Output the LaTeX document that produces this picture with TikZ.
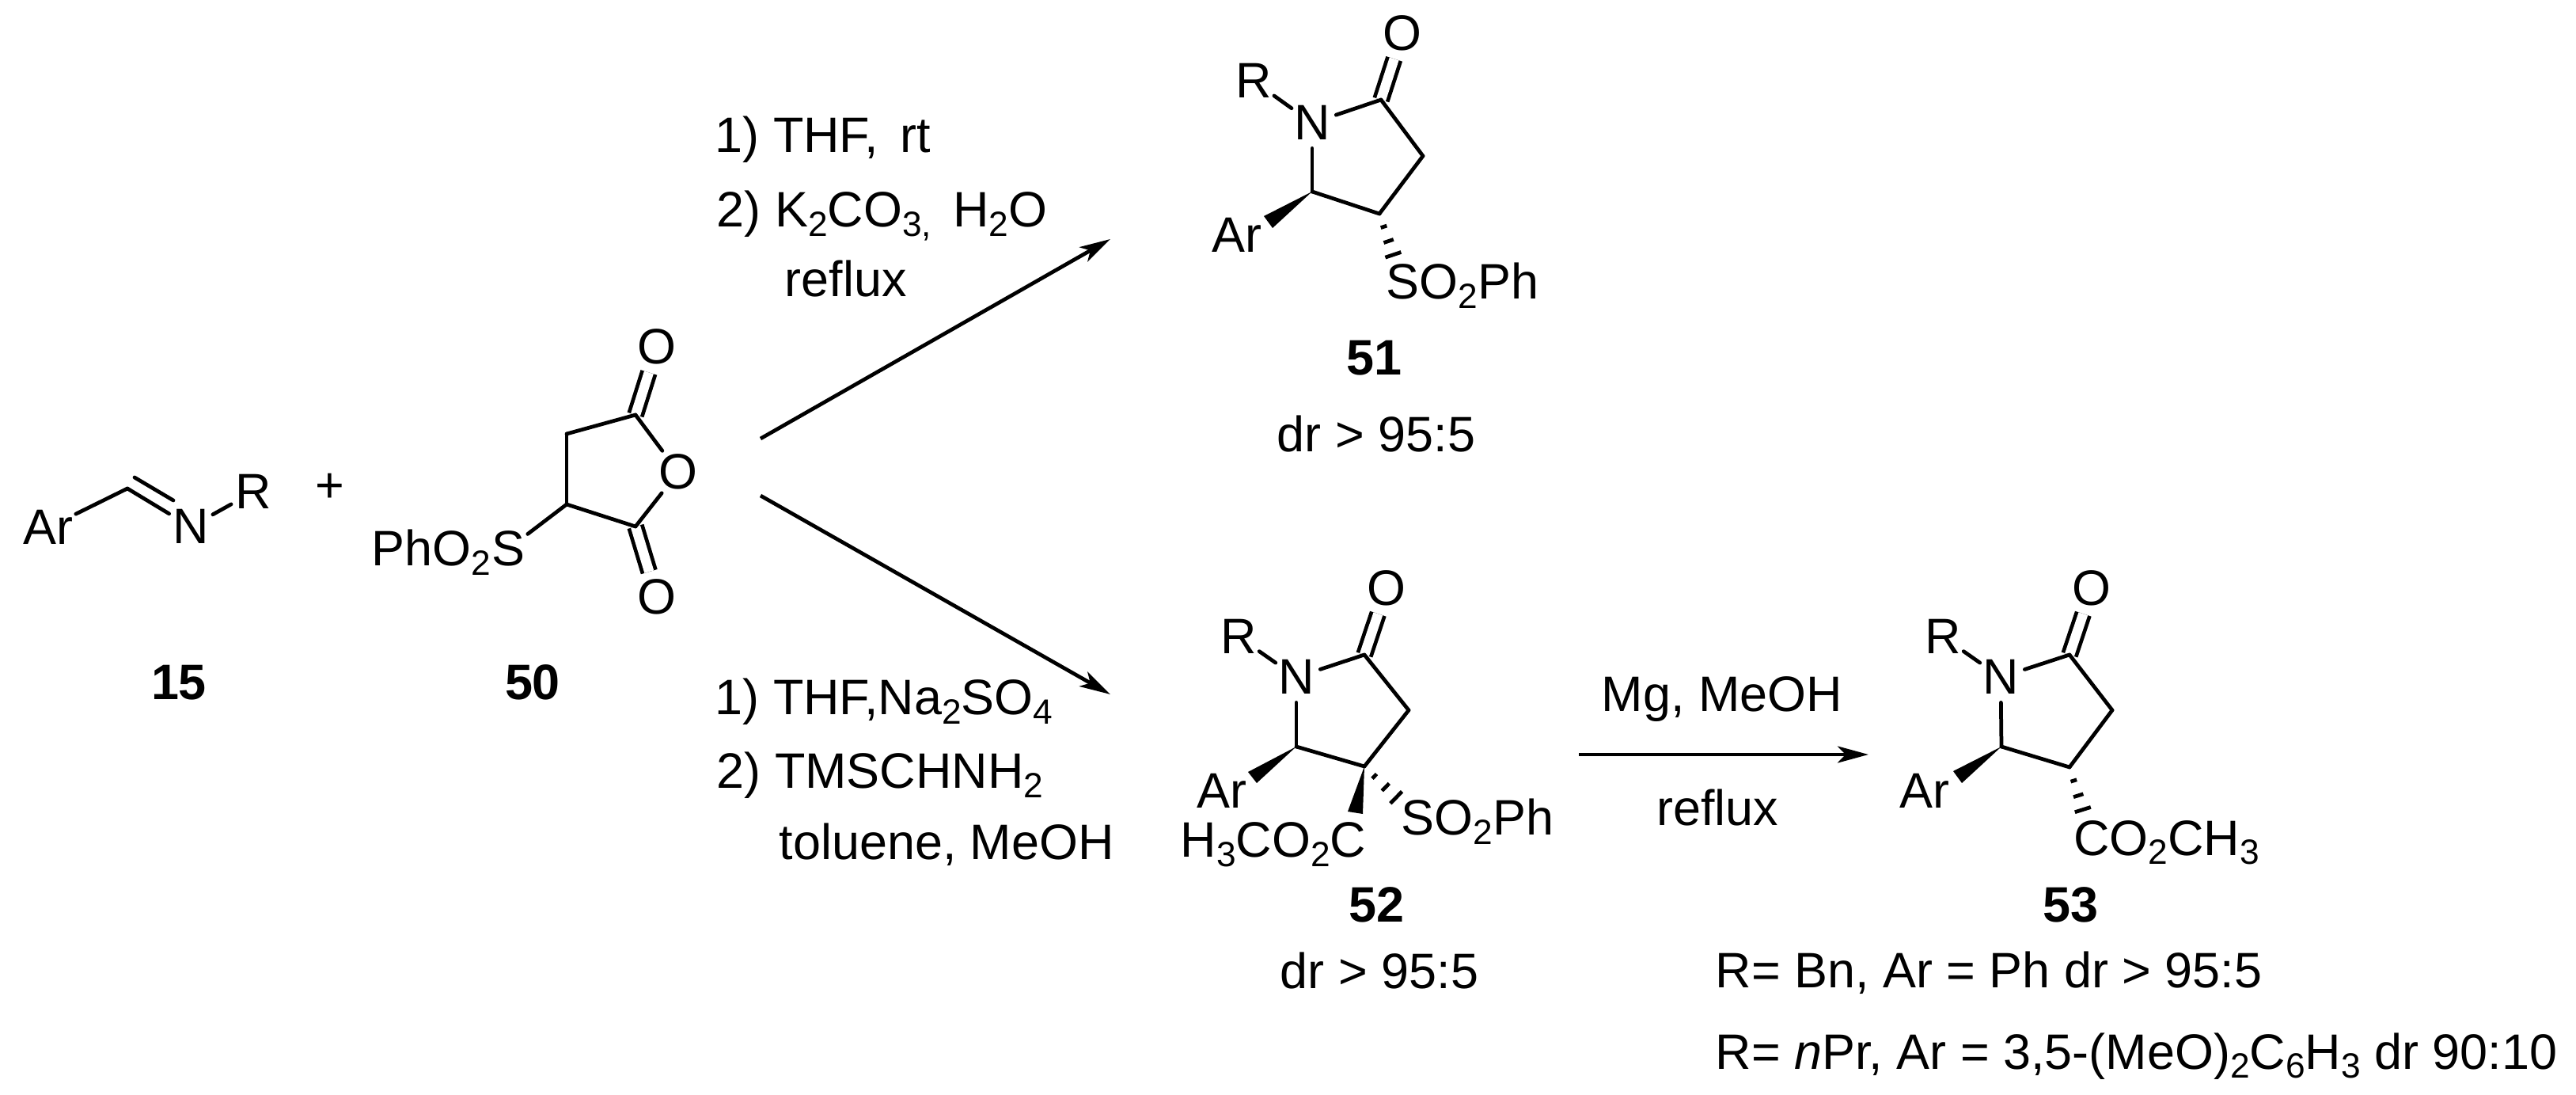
\documentclass[tikz,border=0pt]{standalone}
\usepackage{fontspec}
\setmainfont{Liberation Sans}
\usepackage{tikz}
\usetikzlibrary{arrows.meta,calc}

\newcommand{\chemsub}[1]{\raisebox{-0.19em}{\fontsize{12.6}{14}\selectfont #1}}
\newcommand{\hashbond}[2]{
	\foreach \pos/\hw in {.19/.04,.40/.065,.60/.105}{
		\draw[line width=1.35pt] ($(#1)!\pos!(#2)!\hw cm!90:(#2)$) -- ($(#1)!\pos!(#2)!\hw cm!-90:(#2)$);
	}
}

\tikzset{
	every node/.style={font=\fontsize{17.9}{20}\selectfont},
	atom/.style={shape=circle,inner sep=0pt,anchor=base},
	txt/.style={inner sep=0pt,anchor=base west},
	mid/.style={inner sep=0pt,anchor=base},
	bond/.style={line width=1.35pt,line cap=round},
	dbl/.style={line width=1.35pt,double,double distance=3.5pt},
	react/.style={line width=1.35pt,-{Stealth[length=3.9mm,width=2.1mm,inset=1mm]}}
}

\begin{document}
\begin{tikzpicture}
	\useasboundingbox (0,0) rectangle (32.55,13.82);

	% imine
	\node[atom] (ar15) at (0.61, 6.94)     {Ar};
	\coordinate (c15) at (1.61, 7.65);
	\node[atom] (n15) at (2.41, 6.95)     {N};
	\node[atom] (r15) at (3.20, 7.39)     {R};
	\coordinate (c15a) at (1.70, 7.79);
	\coordinate (c15b) at (2.19, 7.50);
	\node[mid] (plus) at (4.17, 7.47)     {+};
	\node[mid] (lab15) at (2.26, 4.98)     {\textbf{15}};

	% anhydride
	\node[atom] (o50a) at (8.30, 9.22)     {O};
	\node[atom] (o50b) at (8.57, 7.64)     {O};
	\node[atom] (o50c) at (8.30, 6.06)     {O};
	\coordinate (c50a) at (8.03, 8.58);
	\coordinate (c50b) at (7.16, 8.34);
	\coordinate (c50c) at (7.16, 7.45);
	\coordinate (c50d) at (8.03, 7.17);
	\node[atom] (s50) at (6.42, 6.67)     {S};
	\node[mid,anchor=base east] (ph50) at (6.21, 6.67)     {PhO\chemsub{2}};
	\node[mid] (lab50) at (6.73, 4.98)     {\textbf{50}};

	% 51
	\node[atom] (o51) at (17.72, 13.18)     {O};
	\node[atom] (r51) at (15.84, 12.58)     {R};
	\node[atom] (n51) at (16.58, 12.05)     {N};
	\coordinate (c51a) at (17.45, 12.56);
	\coordinate (c51b) at (17.98, 11.85);
	\coordinate (c51c) at (17.43, 11.12);
	\coordinate (c51d) at (16.58, 11.40);
	\coordinate (w51a) at (15.97, 11.09);
	\coordinate (w51b) at (16.08, 10.94);
	\node[atom] (ar51) at (15.63, 10.63)     {Ar};
	\node[atom] (s51) at (17.72, 10.04)     {S};
	\node[txt] (so51) at (17.93, 10.04)     {O\chemsub{2}Ph};
	\node[mid] (lab51) at (17.36, 9.08)     {\textbf{51}};
	\node[mid] (dr51) at (17.39, 8.11)     {dr > 95:5};

	% 52
	\node[atom] (o52) at (17.52, 6.17)     {O};
	\node[atom] (r52) at (15.65, 5.56)     {R};
	\node[atom] (n52) at (16.38, 5.05)     {N};
	\coordinate (c52a) at (17.24, 5.55);
	\coordinate (c52b) at (17.80, 4.85);
	\coordinate (c52c) at (17.24, 4.14);
	\coordinate (c52d) at (16.38, 4.39);
	\coordinate (w52a) at (15.77, 4.07);
	\coordinate (w52b) at (15.88, 3.93);
	\coordinate (w52c) at (17.03, 3.57);
	\coordinate (w52d) at (17.22, 3.54);
	\node[atom] (ar52) at (15.44, 3.62)     {Ar};
	\node[mid,anchor=base east] (me52) at (17.27, 2.99)     {H\chemsub{3}CO\chemsub{2}C};
	\node[atom] (s52) at (17.91, 3.27)     {S};
	\node[txt] (so52) at (18.12, 3.27)     {O\chemsub{2}Ph};
	\node[mid] (lab52) at (17.39, 2.18)     {\textbf{52}};
	\node[mid] (dr52) at (17.43, 1.34)     {dr > 95:5};

	% 53
	\node[atom] (o53) at (26.43, 6.17)     {O};
	\node[atom] (r53) at (24.55, 5.56)     {R};
	\node[atom] (n53) at (25.28, 5.05)     {N};
	\coordinate (c53a) at (26.15, 5.55);
	\coordinate (c53b) at (26.69, 4.85);
	\coordinate (c53c) at (26.15, 4.13);
	\coordinate (c53d) at (25.29, 4.39);
	\coordinate (w53a) at (24.68, 4.08);
	\coordinate (w53b) at (24.79, 3.93);
	\node[atom] (ar53) at (24.32, 3.62)     {Ar};
	\node[atom] (co53) at (26.43, 3.02)     {C};
	\node[txt] (me53) at (26.65, 3.02)     {O\chemsub{2}CH\chemsub{3}};
	\node[mid] (lab53) at (26.16, 2.18)     {\textbf{53}};
	\node[txt] (sub1) at (21.67, 1.35)     {R= Bn, Ar = Ph dr > 95:5};
	\node[txt] (sub2) at (21.67, 0.32)     {R= \textit{n}Pr, Ar = 3,5-(MeO)\chemsub{2}C\chemsub{6}H\chemsub{3} dr 90:10};

	% reagents
	\node[txt] (up1) at (9.03, 11.89)     {1) THF,\hspace{0.16em} rt};
	\node[txt] (up2) at (9.05, 10.95)     {2) K\chemsub{2}CO\chemsub{3,}\hspace{0.16em} H\chemsub{2}O};
	\node[txt] (up3) at (9.91, 10.07)     {reflux};
	\node[txt] (lo1) at (9.03, 4.79)     {1) THF,Na\chemsub{2}SO\chemsub{4}};
	\node[txt] (lo2) at (9.05, 3.86)     {2) TMSCHNH\chemsub{2}};
	\node[txt] (lo3) at (9.84, 2.97)     {toluene, MeOH};
	\node[mid] (mg) at (21.76, 4.84)     {Mg, MeOH};
	\node[mid] (rf) at (21.70, 3.40)     {reflux};

	% arrows
	\coordinate (up0) at (9.61, 8.28);
	\coordinate (up9) at (14.03, 10.80);
	\coordinate (lo0) at (9.61, 7.56);
	\coordinate (lo9) at (14.03, 5.05);
	\coordinate (ri0) at (19.95, 4.29);
	\coordinate (ri9) at (23.61, 4.29);
	\path[react] (up0) edge (up9);
	\path[react] (lo0) edge (lo9);
	\path[react] (ri0) edge (ri9);

	% bonds
	\path[bond] (ar15) edge (c15);
	\path[bond] (c15) edge (n15);
	\path[bond] (c15a) edge (c15b);
	\path[bond] (n15) edge (r15);

	\draw[dbl] (c50a) -- (o50a);
	\draw[dbl] (c50d) -- (o50c);
	\path[bond] (c50a) edge (c50b);
	\path[bond] (c50b) edge (c50c);
	\path[bond] (c50c) edge (c50d);
	\path[bond] (c50a) edge (o50b);
	\path[bond] (c50d) edge (o50b);
	\path[bond] (c50c) edge (s50);

	\foreach \mol in {51,52,53}{
		\draw[dbl] (c\mol a) -- (o\mol);
		\path[bond] (r\mol) edge (n\mol);
		\path[bond] (n\mol) edge (c\mol a);
		\path[bond] (c\mol a) edge (c\mol b);
		\path[bond] (c\mol b) edge (c\mol c);
		\path[bond] (c\mol c) edge (c\mol d);
		\path[bond] (c\mol d) edge (n\mol);
		\fill (c\mol d) -- (w\mol a) -- (w\mol b) -- cycle;
	}
	\fill (c52c) -- (w52c) -- (w52d) -- cycle;

	\hashbond{c51c}{s51}
	\hashbond{c52c}{s52}
	\hashbond{c53c}{co53}
\end{tikzpicture}
\end{document}
